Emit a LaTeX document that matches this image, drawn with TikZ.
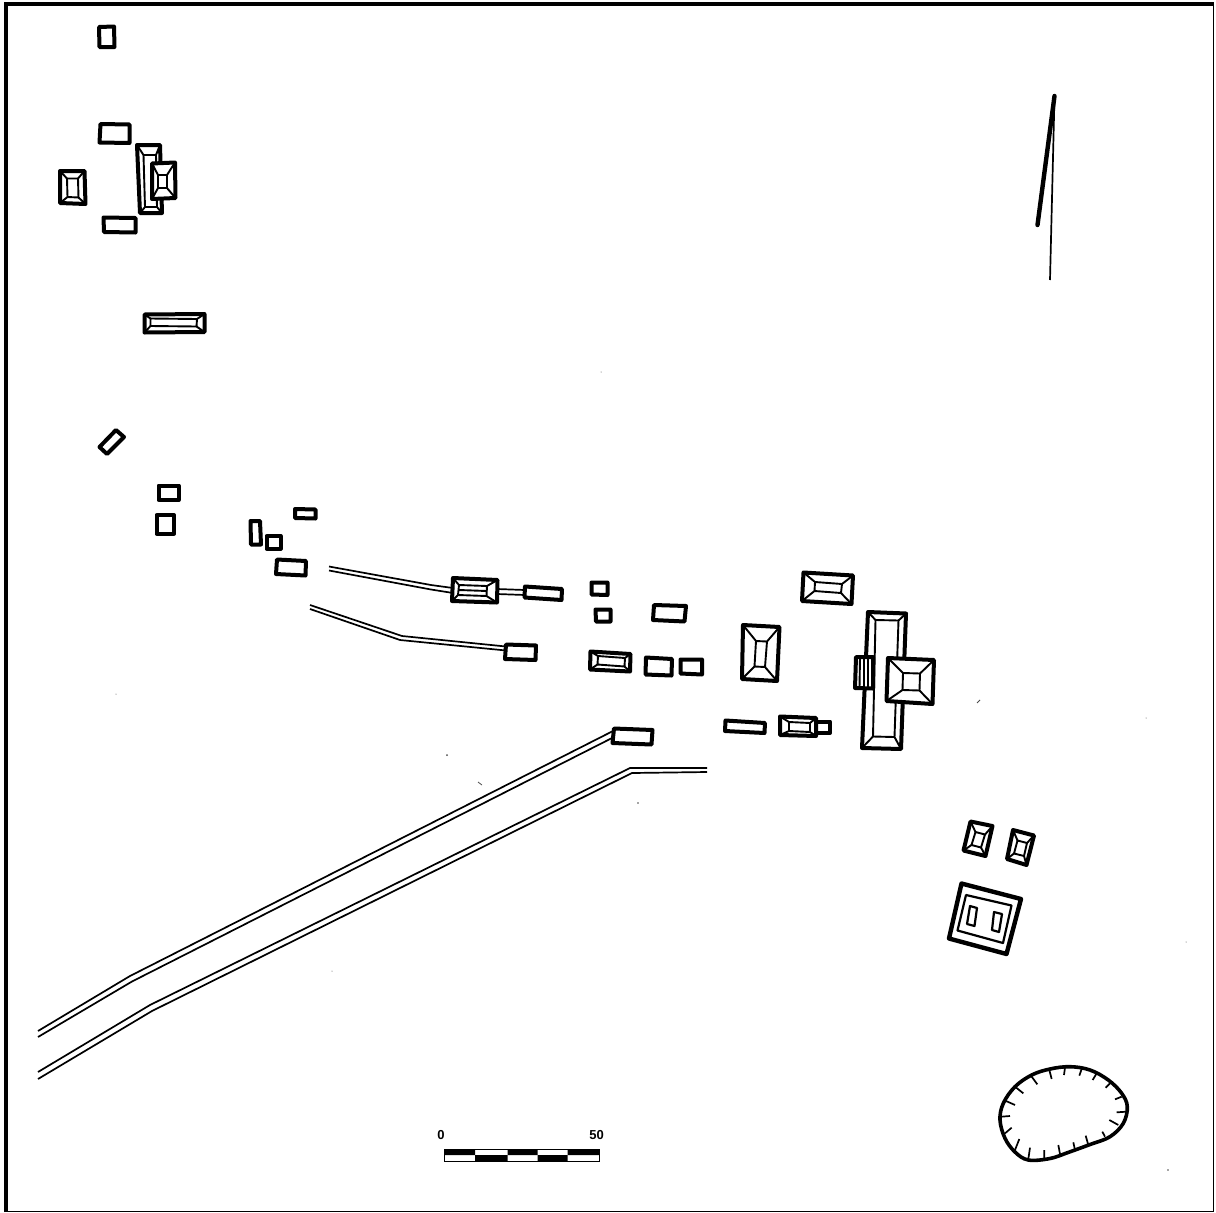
\documentclass[tikz,border=0pt]{standalone}
\usepackage{fontspec}
\setmainfont{Liberation Sans}
\tikzset{
  wall/.style={draw=black,line width=4pt,line join=round,fill=white},
  wallb/.style={draw=black,line width=4.4pt,line join=round,fill=white},
  roof/.style={draw=black,line width=1.9pt,line join=round},
  roadline/.style={draw=black,line width=1.7pt,line join=round},
  speck/.style={fill=black!70,draw=none},
  scalelabel/.style={font=\bfseries\fontsize{13}{13}\selectfont,inner sep=0pt}
}
% rectangle: four corners
\newcommand{\plainb}[4]{\draw[wall] #1 -- #2 -- #3 -- #4 -- cycle;}
% hipped building: four outer corners, four inner corners
\newcommand{\hipb}[8]{%
  \draw[wall] #1 -- #2 -- #3 -- #4 -- cycle;
  \draw[roof] #5 -- #6 -- #7 -- #8 -- cycle;
  \draw[roof] #1 -- #5 #2 -- #6 #3 -- #7 #4 -- #8;}
\begin{document}
\begin{tikzpicture}[x=1pt,y=-1pt]
\useasboundingbox (0,0) rectangle (1216,1213);
\fill[white] (0,0) rectangle (1216,1213);
% frame
\draw[black,line width=4pt] (6,1212) -- (6,4);
\draw[black,line width=3.6pt] (4,4) -- (1214,4);
\draw[black,line width=1.6pt] (4,1211.5) -- (1213.5,1211.5) -- (1213.5,4);

% north-west group
\plainb{(99,27)}{(114,26.5)}{(114.5,47)}{(99.5,47)}
\plainb{(100.5,124)}{(129.5,124.5)}{(129.5,143)}{(99.5,142.5)}
\hipb{(60,171)}{(84.5,171)}{(85.5,204)}{(60,203)}{(67,178.5)}{(78,178.5)}{(78.5,197.5)}{(67.5,197)}
\plainb{(103.5,217.5)}{(135.5,218)}{(135.5,232.5)}{(104,232)}
\hipb{(137,145)}{(160,145)}{(162,213)}{(140,213)}{(143.5,155)}{(156,155)}{(157,207)}{(145,207)}
\hipb{(152,163.5)}{(175,162.5)}{(175.5,198)}{(152,199)}{(158,175)}{(167,175)}{(167,188)}{(158,188)}
\hipb{(144.5,314.5)}{(204.5,314)}{(204.5,332)}{(144.5,332.5)}{(150.5,318.5)}{(197,319)}{(196.5,326.5)}{(150.5,326)}

% west cluster
\plainb{(116,430)}{(124,437)}{(107,454)}{(99.5,447)}
\plainb{(158.5,485.5)}{(178.5,485.5)}{(178.5,500)}{(158.5,500)}
\plainb{(156.5,515)}{(174,515)}{(174,533.5)}{(156.5,533.5)}
\plainb{(250.5,521)}{(260,521)}{(261,544.5)}{(251,544.5)}
\plainb{(266.5,536)}{(280.5,536)}{(280.5,548.5)}{(266.5,548.5)}
\plainb{(295,509)}{(315.5,509.5)}{(315.5,518.5)}{(295,518)}
\plainb{(277,559.5)}{(306,561)}{(305.5,575.5)}{(276,574)}

% roads
\coordinate (ra1) at (38,1031); \coordinate (ra2) at (130,976); \coordinate (ra3) at (613,731);
\coordinate (rb1) at (38,1037); \coordinate (rb2) at (132,981.5); \coordinate (rb3) at (614,737);
\coordinate (rc1) at (38,1072); \coordinate (rc2) at (150,1005); \coordinate (rc3) at (630,768); \coordinate (rc4) at (707,768);
\coordinate (rd1) at (38,1079); \coordinate (rd2) at (152,1011); \coordinate (rd3) at (632,773); \coordinate (rd4) at (707,772);
\draw[roadline] (ra1) -- (ra2) -- (ra3);
\draw[roadline] (rb1) -- (rb2) -- (rb3);
\draw[roadline] (rc1) -- (rc2) -- (rc3) -- (rc4);
\draw[roadline] (rd1) -- (rd2) -- (rd3) -- (rd4);
\coordinate (re1) at (329,566.5); \coordinate (re2) at (431,585); \coordinate (re3) at (453,588);
\coordinate (rf1) at (329,570.5); \coordinate (rf2) at (431,589.5); \coordinate (rf3) at (453,593);
\draw[roadline] (re1) -- (re2) -- (re3);
\draw[roadline] (rf1) -- (rf2) -- (rf3);
\draw[roadline] (497,589) -- (525,590);
\draw[roadline] (497,594) -- (525,595);
\coordinate (rg1) at (310,605); \coordinate (rg2) at (402,636); \coordinate (rg3) at (506,646.5);
\coordinate (rh1) at (310,609); \coordinate (rh2) at (400,640); \coordinate (rh3) at (506,650.5);
\draw[roadline] (rg1) -- (rg2) -- (rg3);
\draw[roadline] (rh1) -- (rh2) -- (rh3);

% central group
\hipb{(453,578)}{(497.5,580)}{(497,602.5)}{(452,601)}{(459,585)}{(487,586)}{(486.5,596)}{(458,595)}
\draw[roof] (459,590) -- (487,591);
\plainb{(525,586.5)}{(562,589)}{(561.5,600)}{(524.5,597.5)}
\plainb{(591.5,582.5)}{(607.5,582.5)}{(607.5,595)}{(591.5,594.5)}
\plainb{(595.5,609.5)}{(610.5,609.5)}{(610.5,621.5)}{(596,621.5)}
\plainb{(654,605)}{(686,606)}{(684.5,621.5)}{(653,620)}
\plainb{(506,644.5)}{(536,645.5)}{(535.5,660)}{(505,659)}
\hipb{(590.5,651.5)}{(630.5,654)}{(630,671.5)}{(590,669.5)}{(598,656)}{(625,658)}{(624.5,666.5)}{(597.5,664.5)}
\plainb{(646,657.5)}{(672,659)}{(671.5,675.5)}{(645.5,674.5)}
\plainb{(680.5,659.5)}{(702,659.5)}{(702,674.5)}{(680.5,673.5)}
\hipb{(743,625)}{(779.5,627)}{(777,681)}{(742,679)}{(756,641)}{(767,641.5)}{(765,667)}{(754.5,666.5)}
\hipb{(803.5,572.5)}{(853,575.5)}{(851.5,604)}{(802,601)}{(815,582)}{(842,584)}{(841,593)}{(814.5,591)}

% south row
\plainb{(614,728.5)}{(652.5,730)}{(651.5,744.5)}{(612.5,743)}
\plainb{(725.5,720.5)}{(765,723)}{(764.5,733)}{(725,731)}
\draw[wall] (816,721.5) -- (830,721.5) -- (830,733) -- (816,733) -- cycle;
\hipb{(780,716.5)}{(816,718)}{(816,736)}{(780,735)}{(789,722)}{(810,723)}{(810,732)}{(789,731)}

% main complex
\hipb{(868,612)}{(906,613.5)}{(901,749)}{(862,748)}{(875.5,620)}{(898.5,620.5)}{(894.5,737)}{(873,736.5)}
\draw[wall] (856,657) -- (873,657) -- (873,688.5) -- (855,688) -- cycle;
\draw[roof] (860,657) -- (859.5,688) (864,657) -- (864,688) (868,657) -- (868,688);
\hipb{(888,658)}{(934,660)}{(932.5,704)}{(886.5,701)}{(903,673)}{(920,673.5)}{(919.5,690.5)}{(902.5,690)}

% south-east group
\hipb{(970.5,821.5)}{(992.5,826)}{(985.5,856)}{(963.5,850.5)}{(975.5,832)}{(985,834.5)}{(981,847.5)}{(971.5,845)}
\hipb{(1013,830)}{(1034,835.5)}{(1026.5,865)}{(1007,859)}{(1017.5,840.5)}{(1027,843)}{(1024,856)}{(1014,853.5)}
\draw[wallb] (961.5,883.5) -- (1021,899) -- (1006.5,954) -- (949,938.5) -- cycle;
\draw[roof,line width=2.2pt] (966,895) -- (1011.5,905.5) -- (1003,943) -- (957.5,930.5) -- cycle;
\draw[roof,line width=2.2pt] (970,906) -- (977,908) -- (974.5,926) -- (967,924) -- cycle;
\draw[roof,line width=2.2pt] (994,912) -- (1002,914) -- (999,932) -- (992,930) -- cycle;

% pit with hachures
\draw[black,line width=3.6pt,line join=round]
  plot[smooth cycle,tension=0.6] coordinates {
  (1000,1120) (1003.3,1103.3) (1015,1086.7) (1031.7,1075) (1050,1069) (1070,1066.7)
  (1090,1070) (1108.3,1080) (1121.7,1093.3) (1127.3,1106.7) (1123.3,1123.3) (1110,1136.7)
  (1090,1144.5) (1068,1152.5) (1050,1158.5) (1028.3,1160) (1015,1152) (1005,1138.3)};
\begin{scope}[shift={(990,1055)},x=0.3333pt,y=-0.3333pt,line width=1.7pt]
\draw (125,65) -- (142,88) (178,45) -- (185,72) (225,38) -- (222,60) (275,42) -- (268,62)
      (320,55) -- (308,75) (360,85) -- (347,98) (395,125) -- (375,133) (410,170) -- (380,172)
      (385,210) -- (358,195) (345,245) -- (337,230) (295,270) -- (287,242) (255,285) -- (250,262)
      (210,297) -- (205,270) (163,310) -- (163,285) (115,312) -- (120,278) (75,285) -- (88,252)
      (45,235) -- (65,218) (35,185) -- (60,183) (48,138) -- (75,150) (75,95) -- (100,115);
\end{scope}

% north arrow
\draw[black,line width=4.4pt,line cap=round] (1054.5,96) -- (1037.5,225);
\draw[black,line width=1.7pt] (1054.5,96) -- (1050,280);

% scale bar
\fill[black] (444.5,1149.5) rectangle (475,1155) (507.5,1149.5) rectangle (537.5,1155) (567.5,1149.5) rectangle (599.5,1155);
\fill[black] (475,1155) rectangle (507.5,1161) (537.5,1155) rectangle (567.5,1161);
\draw[black,line width=1pt] (444.5,1149.5) rectangle (599.5,1161);
\node[scalelabel] (zero) at (441,1135.5) {0};
\node[scalelabel] (fifty) at (596.5,1135.5) {50};

% specks
\fill[speck] (447,755) circle (1pt) (638,803) circle (0.8pt) (601,372) circle (0.5pt) (1168,1170) circle (0.8pt)
  (1146,718) circle (0.5pt) (1186,942) circle (0.5pt) (116,694) circle (0.5pt) (332,971) circle (0.5pt);
\draw[black!70,line width=0.8pt] (478,782) -- (482,785) (977,703) -- (980,700);
\end{tikzpicture}
\end{document}
